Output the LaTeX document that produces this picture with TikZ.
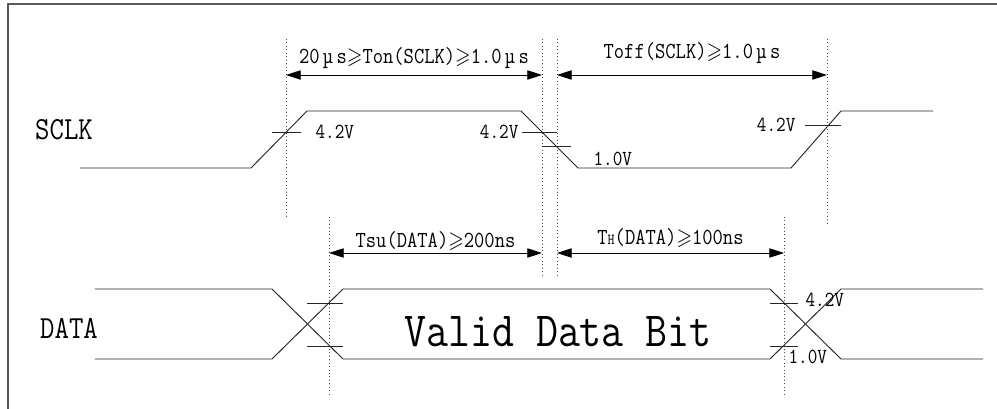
\documentclass[tikz,border=0pt]{standalone}
\usepackage{amssymb}
\usetikzlibrary{arrows.meta}
\begin{document}
\begin{tikzpicture}[x=0.75pt,y=-0.75pt,
    wave/.style={line width=0.7pt,black!85},
    guide/.style={dotted,gray!60!black,line width=0.6pt},
    dimline/.style={line width=0.6pt,{Triangle[length=11pt,width=7pt]}-{Triangle[length=11pt,width=7pt]}},
    tall/.style={yscale=1.15,transform shape},
    lvlfont/.style={font=\ttfamily\fontsize{14}{14}\selectfont,inner sep=1pt,tall},
    dimfont/.style={font=\ttfamily\fontsize{15}{15}\selectfont,inner sep=1pt,tall}]

  \useasboundingbox (0,0) rectangle (997,409);
  \draw[gray!70!black,line width=1.2pt] (997,4) -- (8,4) -- (8,409);

  % signal names
  \node[font=\ttfamily\fontsize{21}{21}\selectfont,tall] (sclk) at (64,130) {SCLK};
  \node[font=\ttfamily\fontsize{21}{21}\selectfont,tall] (data) at (69,328) {DATA};

  % waveforms
  \draw[wave] (80,168) -- (251,168) -- (307,111) -- (521,111) -- (578,168)
    -- (791,168) -- (841,111) -- (933,111);
  \draw[wave] (95,289) -- (272,289) -- (343,359) -- (770,359) -- (841,289) -- (983,289);
  \draw[wave] (95,359) -- (272,359) -- (343,289) -- (770,289) -- (841,359) -- (983,359);
  \node[font=\ttfamily\fontsize{32}{32}\selectfont,anchor=base,tall] (valid) at (558,347) {Valid Data Bit};

  % timing guides
  \begin{scope}[every path/.style={guide}]
    \draw (286,39) -- (286,216);
    \draw (542,39) -- (542,275);
    \draw (557,39) -- (557,275);
    \draw (827,39) -- (827,224);
    \draw (329,217) -- (329,394);
    \draw (784,217) -- (784,394);
  \end{scope}

  % level marks
  \draw[wave] (272,132) -- (301,132);
  \draw[wave] (522,132) -- (557,132);
  \draw[wave] (542,146) -- (571,146);
  \draw[wave] (805,125) -- (841,125);
  \draw[wave] (307,303) -- (343,303);
  \draw[wave] (307,346) -- (343,346);
  \draw[wave] (770,303) -- (798,303);
  \draw[wave] (770,346) -- (798,346);

  \begin{scope}[every node/.style={lvlfont}]
    \node[anchor=west] (v1) at (314,132) {4.2V};
    \node[anchor=east] (v2) at (520,132) {4.2V};
    \node[anchor=west] (v3) at (592,159) {1.0V};
    \node[anchor=east] (v4) at (797,125) {4.2V};
    \node[anchor=west] (v5) at (804,300) {4.2V};
    \node[anchor=west] (v6) at (787,357) {1.0V};
  \end{scope}

  % time intervals
  \coordinate (ton1)  at (286,75);
  \coordinate (ton2)  at (542,75);
  \coordinate (toff1) at (557,75);
  \coordinate (toff2) at (827,75);
  \coordinate (tsu1)  at (329,253);
  \coordinate (tsu2)  at (542,253);
  \coordinate (th1)   at (557,253);
  \coordinate (th2)   at (784,253);

  \begin{scope}[every node/.style={dimfont,above}]
    \path (ton1)  edge[dimline] node[yshift=3pt] {20\,µ\,s$\geqslant$Ton(SCLK)$\geqslant$1.0\,µ\,s} (ton2);
    \path (toff1) edge[dimline] node[yshift=6pt] {Toff(SCLK)$\geqslant$1.0\,µ\,s} (toff2);
    \path (tsu1)  edge[dimline] node {Tsu(DATA)$\geqslant$200ns} (tsu2);
    \path (th1)   edge[dimline] node[yshift=2pt] {T{\fontsize{10}{10}\selectfont H}(DATA)$\geqslant$100ns} (th2);
  \end{scope}

\end{tikzpicture}
\end{document}
